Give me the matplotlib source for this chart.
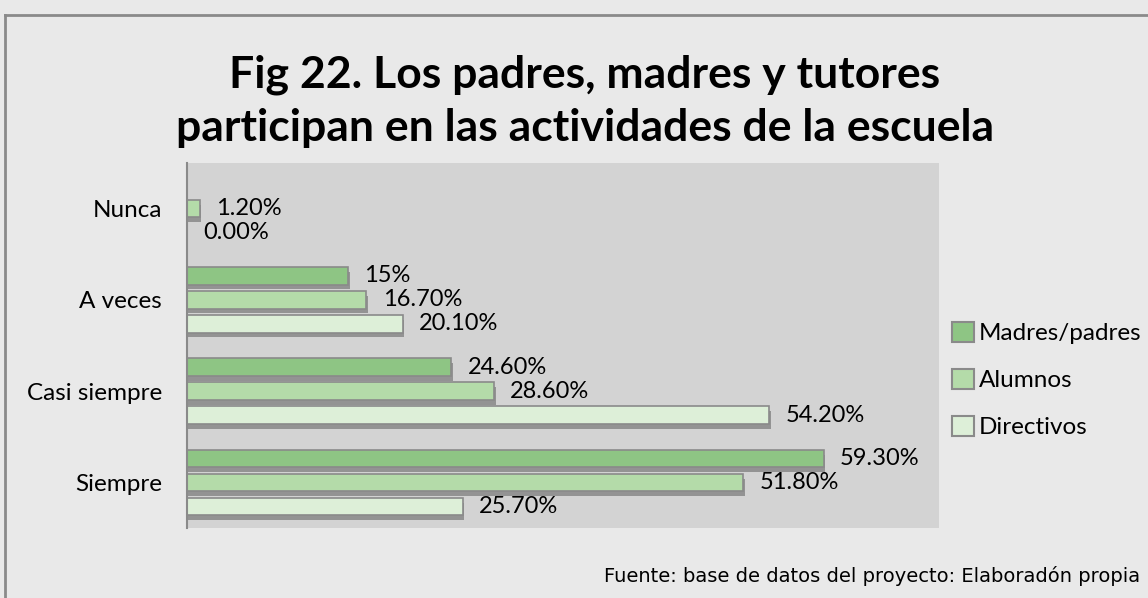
import numpy as np
import matplotlib
matplotlib.use("Agg")
import matplotlib.pyplot as plt
import matplotlib.patheffects as pe
from matplotlib.lines import Line2D
from matplotlib.patches import Patch

categorias = ["Nunca", "A veces", "Casi siempre", "Siempre"]
series = ["Madres/padres", "Alumnos", "Directivos"]
madres_padres = [np.nan, 15.0, 24.6, 59.3]
alumnos = [1.2, 16.7, 28.6, 51.8]
directivos = [0.0, 20.1, 54.2, 25.7]
etiquetas = {
    "Madres/padres": [None, "15%", "24.60%", "59.30%"],
    "Alumnos": ["1.20%", "16.70%", "28.60%", "51.80%"],
    "Directivos": ["0.00%", "20.10%", "54.20%", "25.70%"],
}
colores = ["#8ec584", "#b4dba9", "#ddefd8"]

plt.rcParams['font.family'] = ['Lato', 'DejaVu Sans']

fig = plt.figure(figsize=(11.48, 5.98), dpi=100)
fig.patch.set_facecolor("#e9e9e9")

W, H = 1148, 598
ax = fig.add_axes([187 / W, 1 - 528 / H, (939 - 187) / W, (528 - 163) / H])
ax.set_facecolor("#d3d3d3")

y = np.arange(len(categorias))
paso = 0.263
alto = 0.19
sombra = [pe.SimplePatchShadow(offset=(1, -3.5), shadow_rgbFace="k", alpha=0.3), pe.Normal()]

for k, (nombre, valores) in enumerate(zip(series, [madres_padres, alumnos, directivos])):
    pos = y + (k - 1) * paso
    for i, v in enumerate(valores):
        if np.isnan(v):
            continue
        if v > 0:
            b = ax.barh(pos[i], v, height=alto, color=colores[k], edgecolor="#8a8a8a",
                        linewidth=1.2)
            b[0].set_path_effects(sombra)
        ax.text(v + 1.5, pos[i], etiquetas[nombre][i], va="center", ha="left",
                fontsize=17, color="black")

ax.set_xlim(0, 70)
ax.set_ylim(3.5, -0.5)
ax.set_xticks([])
ax.set_yticks(y)
ax.set_yticklabels(categorias, fontsize=17.5)
ax.tick_params(axis="y", length=0, pad=18)
for s in ["top", "right", "bottom"]:
    ax.spines[s].set_visible(False)
ax.spines["left"].set_color("#8a8a8a")
ax.spines["left"].set_linewidth(1.5)

fig.text(585 / W, 1 - 101 / H, "Fig 22. Los padres, madres y tutores\nparticipan en las actividades de la escuela",
         ha="center", va="center", fontsize=32, fontweight="bold", linespacing=1.4)

handles = [Patch(facecolor=c, edgecolor="#8a8a8a", linewidth=1.5) for c in colores]
fig.legend(handles, series, loc="center left", bbox_to_anchor=(942 / W, 1 - 380 / H),
           frameon=False, fontsize=17.5, handlelength=0.9, handleheight=0.9,
           handletextpad=0.2, labelspacing=1.0, borderaxespad=0)

fig.text(1140 / W, 1 - 576 / H, "Fuente: base de datos del proyecto: Elaboradón propia",
         ha="right", va="center", fontsize=14, family="DejaVu Sans")

fig.add_artist(Line2D([5 / W, 1], [1 - 15 / H, 1 - 15 / H], color="#8a8a8a", lw=2))
fig.add_artist(Line2D([5 / W, 5 / W], [0, 1 - 15 / H], color="#8a8a8a", lw=2))

fig.savefig("out.png", dpi=100, facecolor=fig.get_facecolor())
